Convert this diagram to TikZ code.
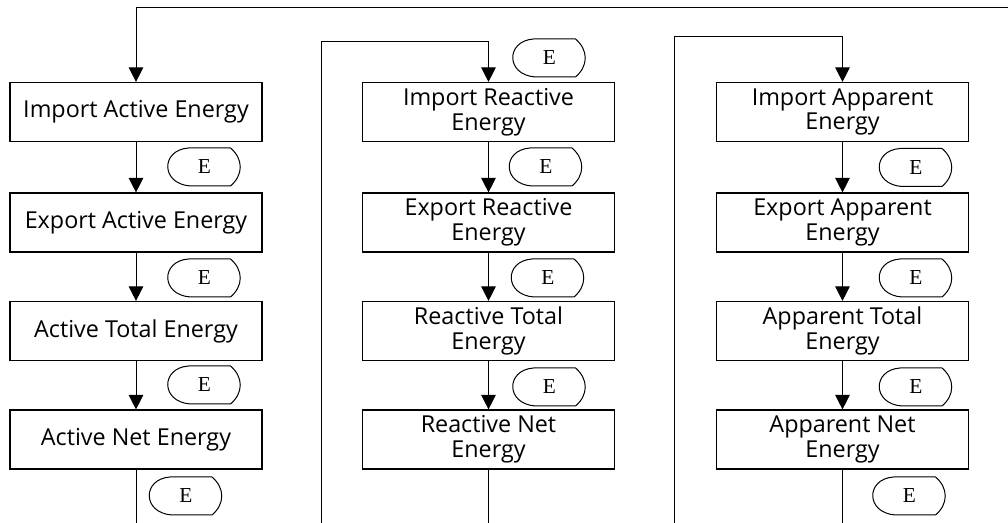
\documentclass[tikz,border=0pt]{standalone}
\usepackage{fontspec}
\setmainfont{Open Sans}
\newfontfamily\eserif{Liberation Serif}
\usetikzlibrary{arrows.meta}
\begin{document}
\begin{tikzpicture}[x=0.75pt,y=-0.75pt,
  box/.style={draw,line width=0.85pt,minimum width=189pt,minimum height=44.25pt,inner sep=0pt,align=center,font=\fontsize{17.5}{18.5}\selectfont},
  conn/.style={line width=0.75pt},
  arr/.style={line width=0.75pt,-{Triangle[length=11pt,width=11pt]}},
  pics/eshape/.style={code={
    \draw[line width=0.75pt] (-16,-19) -- (26,-19) .. controls (39,-8) and (39,8) .. (26,19) -- (-14,19) .. controls (-44,17) and (-44,-17) .. (-16,-19) -- cycle;
    \node[font=\eserif\fontsize{16}{16}\selectfont,inner sep=0pt] (-t) at (0,0) {E};
  }}
]
\useasboundingbox (0,0) rectangle (1008,523);
% column 1
\node[box] (a1) at (136,112) {Import Active Energy};
\node[box] (a2) at (136,222.5) {Export Active Energy};
\node[box] (a3) at (136,331) {Active Total Energy};
\node[box] (a4) at (136,439.5) {Active Net Energy};
% column 2
\node[box] (r1) at (488.5,112) {Import Reactive\\Energy};
\node[box] (r2) at (488.5,222.5) {Export Reactive\\Energy};
\node[box] (r3) at (488.5,331) {Reactive Total\\Energy};
\node[box] (r4) at (488.5,439.5) {Reactive Net\\Energy};
% column 3
\node[box] (p1) at (842.5,112) {Import Apparent\\Energy};
\node[box] (p2) at (842.5,222.5) {Export Apparent\\Energy};
\node[box] (p3) at (842.5,331) {Apparent Total\\Energy};
\node[box] (p4) at (842.5,439.5) {Apparent Net\\Energy};
% E markers
\pic (ea1) at (204.5,167) {eshape};
\pic (ea2) at (204.5,278) {eshape};
\pic (ea3) at (204.5,385) {eshape};
\pic (ea4) at (186,496) {eshape};
\pic (er0) at (549.5,58) {eshape};
\pic (er1) at (546,167) {eshape};
\pic (er2) at (548,278) {eshape};
\pic (er3) at (549.5,387) {eshape};
\pic (ep1) at (916,167.5) {eshape};
\pic (ep2) at (916,278) {eshape};
\pic (ep3) at (916,387) {eshape};
\pic (ep4) at (909.5,496) {eshape};
% coordinates
\coordinate (top1) at (1008,8);
\coordinate (bot) at (0,523);
\coordinate (c2t) at (321,42);
\coordinate (c2b) at (321,523);
\coordinate (c3t) at (674,37);
\coordinate (c3b) at (674,523);
% connectors
\draw[arr] (top1) -| (a1);
\draw[arr] (a1) -- (a2);
\draw[arr] (a2) -- (a3);
\draw[arr] (a3) -- (a4);
\draw[conn] (a4) -- (a4 |- bot);
\draw[arr] (c2b) -- (c2t) -| (r1);
\draw[arr] (r1) -- (r2);
\draw[arr] (r2) -- (r3);
\draw[arr] (r3) -- (r4);
\draw[conn] (r4) -- (r4 |- bot);
\draw[arr] (c3b) -- (c3t) -| (p1);
\draw[arr] (p1) -- (p2);
\draw[arr] (p2) -- (p3);
\draw[arr] (p3) -- (p4);
\draw[conn] (p4) -- (p4 |- bot);
\end{tikzpicture}
\end{document}
